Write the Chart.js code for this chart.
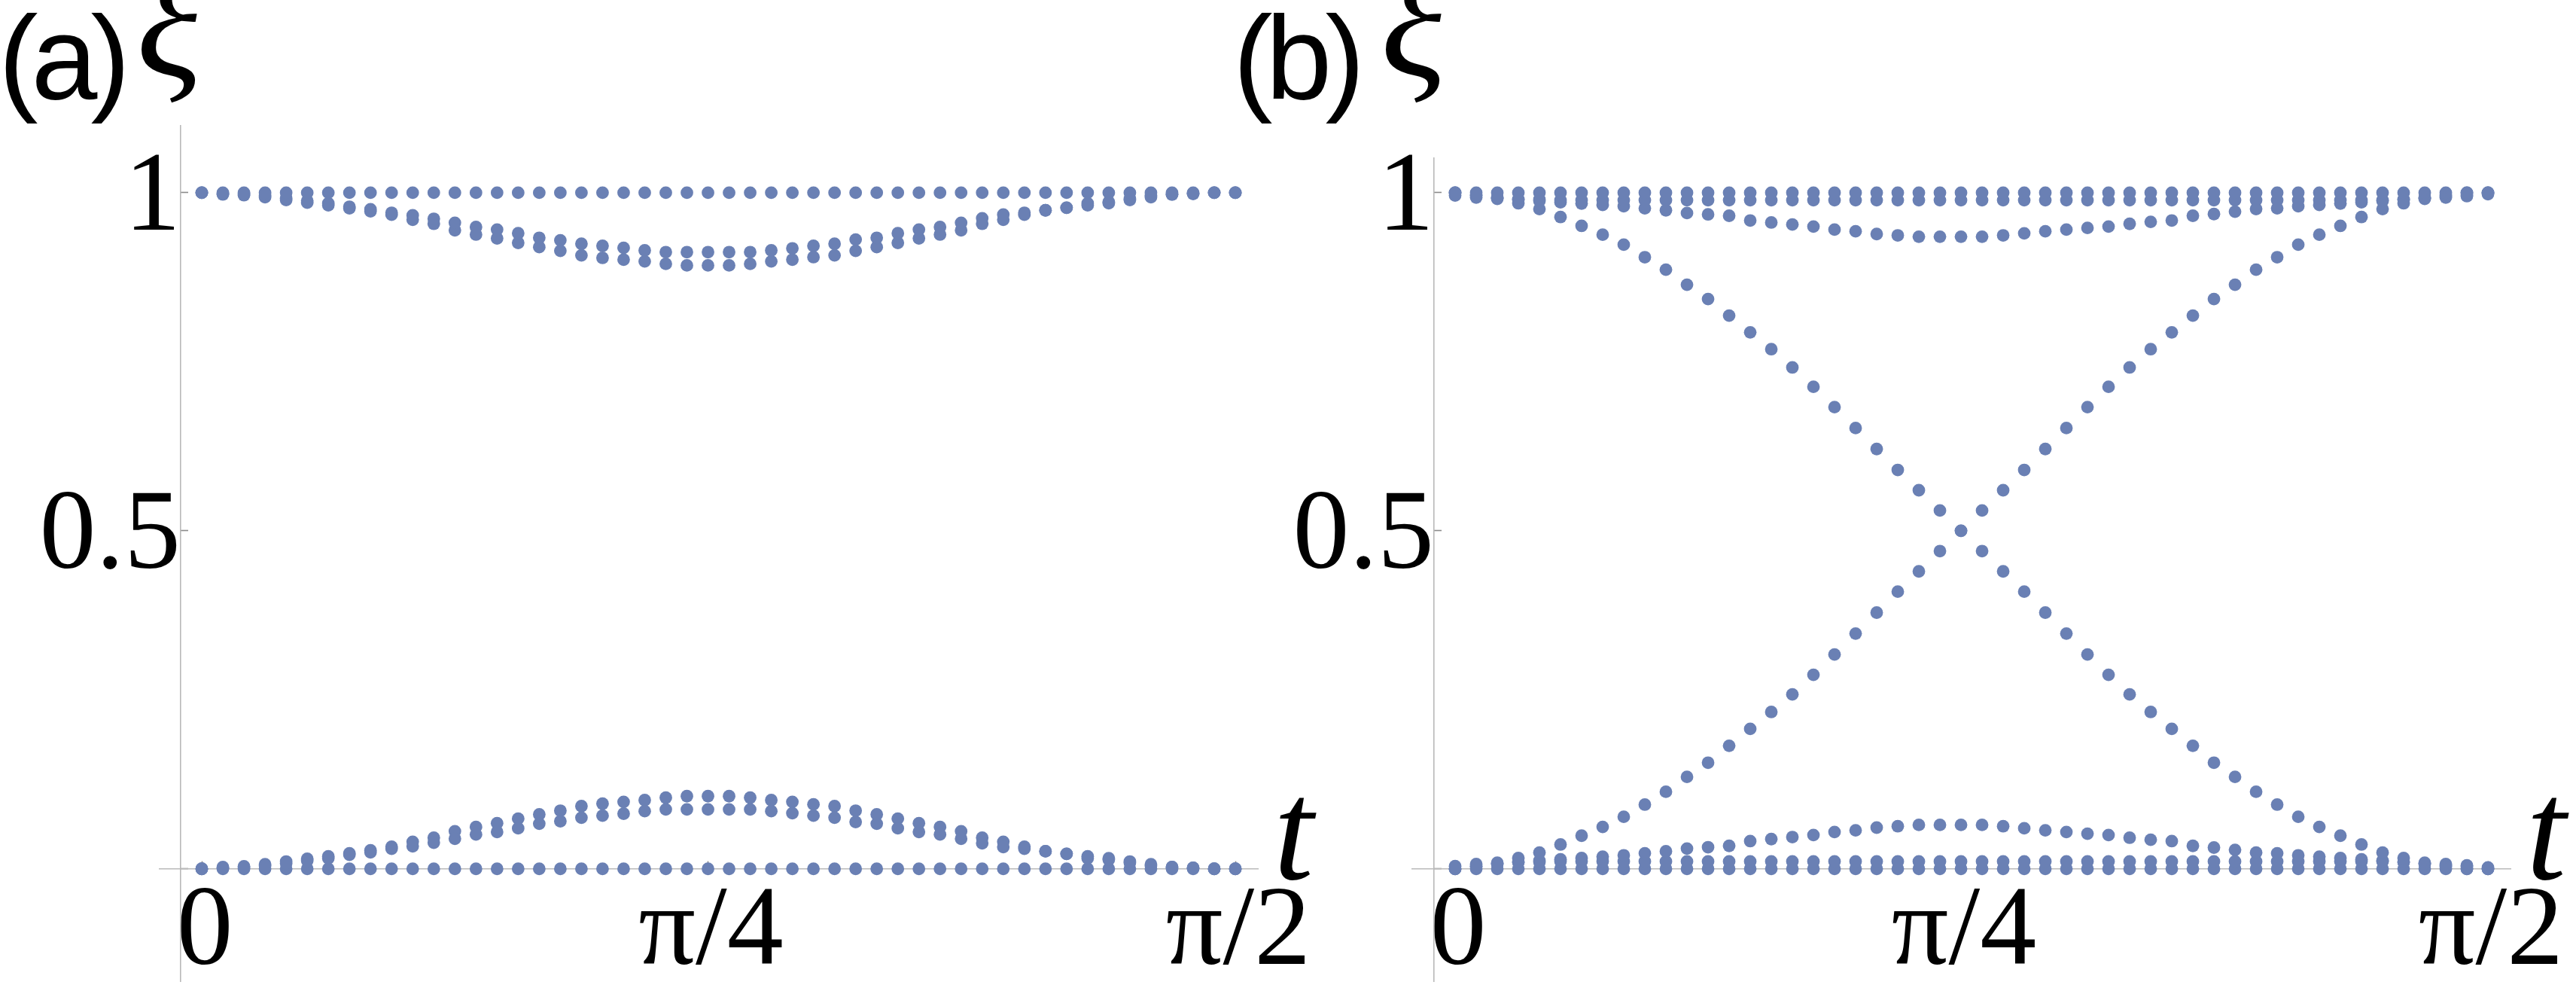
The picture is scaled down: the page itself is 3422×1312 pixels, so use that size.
<!DOCTYPE html>
<html>
<head>
<meta charset="utf-8">
<script src="https://cdn.jsdelivr.net/npm/chart.js@4.4.0/dist/chart.umd.min.js"></script>
<style>
  html, body { margin: 0; padding: 0; background: #fff; }
  body { width: 3422px; height: 1312px; position: relative; overflow: hidden; }
  .panel { position: absolute; top: 0; height: 1312px; }
  #boxA { left: 0; width: 1760px; }
  #boxB { left: 1600px; width: 1822px; }
</style>
</head>
<body>
<div class="panel" id="boxA"><canvas id="chartA"></canvas></div>
<div class="panel" id="boxB"><canvas id="chartB"></canvas></div>
<script>
// sample number along t, 0 .. pi/2
const steps = [0, 1, 2, 3, 4, 5, 6, 7, 8, 9, 10, 11, 12, 13, 14, 15, 16, 17, 18, 19,
    20, 21, 22, 23, 24, 25, 26, 27, 28, 29, 30, 31, 32, 33, 34, 35, 36, 37, 38, 39,
    40, 41, 42, 43, 44, 45, 46, 47, 48, 49];
const xTicks = [0, 24, 49];
const xTickLabels = ['0', 'π/4', 'π/2'];
const yTicks = [0, 0.5, 1];
const yTickLabels = ['', '0.5', '1'];

// panel (a)
const aTop = [1, 1, 1, 1, 1, 1, 1, 1, 1, 1, 1, 1, 1, 1, 1, 1, 1, 1, 1, 1, 1, 1, 1, 1, 1,
    1, 1, 1, 1, 1, 1, 1, 1, 1, 1, 1, 1, 1, 1, 1, 1, 1, 1, 1, 1, 1, 1, 1, 1, 1];
const aDipA = [1, .9985, .9978, .9956, .9918, .9881, .9844, .9792, .9755, .9703,
    .9666, .9614, .9555, .9492, .9455, .9400, .9333, .9296, .9244, .9214,
    .9184, .9147, .9121, .9121, .9121, .9121, .9121, .9147, .9177, .9214,
    .9244, .9307, .9333, .9400, .9455, .9492, .9555, .9622, .9677, .9703,
    .9740, .9778, .9844, .9863, .9910, .9956, .9974, .9985, 1, 1];
const aDipB = [1, .9974, .9963, .9933, .9892, .9852, .9815, .9770, .9726, .9674,
    .9600, .9540, .9444, .9381, .9325, .9258, .9195, .9140, .9073, .9036,
    .9010, .8984, .8947, .8925, .8925, .8925, .8947, .8984, .9010, .9047,
    .9073, .9140, .9195, .9258, .9325, .9381, .9444, .9540, .9600, .9674,
    .9740, .9778, .9815, .9844, .9892, .9933, .9974, .9985, 1, 1];
const aBumpA = [0, .0015, .0022, .0044, .0082, .0119, .0156, .0208, .0245, .0297,
    .0334, .0386, .0445, .0508, .0545, .0600, .0667, .0704, .0756, .0786,
    .0816, .0853, .0879, .0879, .0879, .0879, .0879, .0853, .0823, .0786,
    .0756, .0693, .0667, .0600, .0545, .0508, .0445, .0378, .0323, .0297,
    .0260, .0222, .0156, .0137, .0090, .0044, .0026, .0015, 0, 0];
const aBumpB = [0, .0026, .0037, .0067, .0108, .0148, .0185, .0230, .0274, .0326,
    .0400, .0460, .0556, .0619, .0675, .0742, .0805, .0860, .0927, .0964,
    .0990, .1016, .1053, .1075, .1075, .1075, .1053, .1016, .0990, .0953,
    .0927, .0860, .0805, .0742, .0675, .0619, .0556, .0460, .0400, .0326,
    .0260, .0222, .0185, .0156, .0108, .0067, .0026, .0015, 0, 0];
const aBottom = [0, 0, 0, 0, 0, 0, 0, 0, 0, 0, 0, 0, 0, 0, 0, 0, 0, 0, 0, 0, 0, 0, 0, 0, 0,
    0, 0, 0, 0, 0, 0, 0, 0, 0, 0, 0, 0, 0, 0, 0, 0, 0, 0, 0, 0, 0, 0, 0, 0, 0];

// panel (b)
const bTop = aTop;
const bNear1 = [.996, .993, .991, .990, .990, .989, .989, .989, .989, .989,
    .989, .989, .989, .989, .989, .989, .989, .989, .989, .989,
    .989, .989, .989, .989, .989, .989, .989, .989, .989, .989,
    .989, .989, .989, .989, .989, .989, .989, .989, .989, .989,
    .989, .989, .989, .989, .989, .990, .991, .993, .995, .998];
const bDip = [1, .996, .993, .990, .988, .986, .984, .982, .980, .977,
    .974, .970, .968, .966, .959, .956, .953, .950, .9455, .943,
    .939, .937, .935, .935, .935, .935, .937, .940, .943, .9455,
    .948, .950, .954, .957, .959, .966, .9685, .972, .976, .977,
    .980, .982, .984, .986, .988, .990, .993, .995, .997, 1];
const bFall = [1, .997, .992, .9844, .9759, .9641, .951, .938, .9232, .9047,
    .8862, .864, .8428, .8183, .7935, .7686, .7416, .713, .683, .652,
    .621, .590, .560, .530, .500, .470, .440, .410, .379, .348,
    .317, .287, .258, .232, .207, .182, .157, .136, .114, .095,
    .077, .062, .049, .036, .024, .016, .008, .003, 0, 0];
const bRise = [0, .003, .008, .016, .024, .036, .049, .062, .077, .095,
    .114, .136, .157, .182, .207, .232, .258, .287, .317, .348,
    .379, .410, .440, .470, .500, .530, .560, .590, .621, .652,
    .683, .713, .7416, .7686, .7935, .8183, .8428, .864, .8862, .9047,
    .9232, .938, .951, .9641, .9759, .9844, .992, .997, 1, 1];
const bBump = [0, .004, .007, .010, .012, .014, .016, .018, .020, .023,
    .026, .030, .032, .034, .041, .044, .047, .050, .0545, .057,
    .061, .063, .065, .065, .065, .065, .063, .060, .057, .0545,
    .052, .050, .046, .043, .041, .034, .0315, .028, .024, .023,
    .020, .018, .016, .014, .012, .010, .007, .005, .003, 0];
const bNear0 = [.004, .007, .009, .010, .010, .011, .011, .011, .011, .011,
    .011, .011, .011, .011, .011, .011, .011, .011, .011, .011,
    .011, .011, .011, .011, .011, .011, .011, .011, .011, .011,
    .011, .011, .011, .011, .011, .011, .011, .011, .011, .011,
    .011, .011, .011, .011, .011, .010, .009, .007, .005, .002];
const bBottom = aBottom;

const dotColor = 'rgb(106,128,180)';

const panelText = {
    id: 'panelText',
    afterDraw(chart, args, opts) {
        const ctx = chart.ctx;
        ctx.save();
        ctx.fillStyle = '#000';
        ctx.textAlign = 'left';
        ctx.textBaseline = 'alphabetic';
        ctx.font = '158px "Liberation Sans"';
        ctx.letterSpacing = '-9px';
        ctx.fillText(opts.tag, opts.tagX, 131);
        ctx.letterSpacing = '0px';
        ctx.font = 'italic 205px "Liberation Serif"';
        ctx.fillText('ξ', opts.xiX, 100);
        ctx.font = 'italic 190px "Liberation Serif"';
        ctx.fillText('t', opts.tX, 1167);
        ctx.restore();
    }
};

// axes sit inside the plot area, so drop the label overhang chart.js reserves
const noOverhang = s => { s.paddingTop = 0; s.paddingBottom = 0; s.paddingLeft = 0; s.paddingRight = 0; };

function makePanel(id, bands, frame) {
    const datasets = bands.map(band => ({
        data: band.map((v, i) => ({ x: steps[i], y: v })),
        backgroundColor: dotColor,
        borderColor: dotColor,
        borderWidth: 0,
        pointRadius: 8.4,
        pointHoverRadius: 8.4
    }));
    return new Chart(document.getElementById(id), {
        type: 'scatter',
        data: { datasets: datasets },
        plugins: [panelText],
        options: {
            responsive: true,
            maintainAspectRatio: false,
            animation: false,
            events: [],
            layout: { padding: frame.padding },
            plugins: {
                legend: { display: false },
                tooltip: { enabled: false },
                panelText: frame.text
            },
            scales: {
                x: {
                    type: 'linear',
                    min: frame.xMin,
                    max: frame.xMax,
                    position: { y: 0 },
                    border: { color: '#b9b9b9', width: 1.6 },
                    grid: { drawOnChartArea: false, tickLength: -11, tickColor: '#8a8a8a', tickWidth: 1.6 },
                    afterBuildTicks: s => { s.ticks = xTicks.map(v => ({ value: v })); },
                    afterFit: noOverhang,
                    ticks: {
                        autoSkip: false,
                        maxRotation: 0,
                        padding: 8,
                        labelOffset: 4,
                        color: '#000',
                        font: { family: '"Liberation Serif"', size: 150 },
                        callback: (v, i) => xTickLabels[i]
                    }
                },
                y: {
                    type: 'linear',
                    min: -0.1669,
                    max: frame.yMax,
                    position: { x: -1 },
                    border: { color: '#b9b9b9', width: 1.6 },
                    grid: { drawOnChartArea: false, tickLength: -11, tickColor: '#8a8a8a', tickWidth: 1.6 },
                    afterBuildTicks: s => { s.ticks = yTicks.map(v => ({ value: v })); },
                    afterFit: noOverhang,
                    ticks: {
                        autoSkip: false,
                        padding: 8,
                        labelOffset: 10,
                        color: '#000',
                        font: { family: '"Liberation Serif"', size: 150 },
                        callback: (v, i) => yTickLabels[i]
                    }
                }
            }
        }
    });
}

makePanel('chartA', [aTop, aDipA, aDipB, aBumpA, aBumpB, aBottom], {
    padding: { left: 212, right: 89, top: 167, bottom: 7 },
    xMin: -2.0, xMax: 50.07, yMax: 1.099,
    text: { tag: '(a)', tagX: -2, xiX: 181, tX: 1692 }
});
makePanel('chartB', [bTop, bNear1, bDip, bFall, bRise, bBump, bNear0, bBottom], {
    padding: { left: 276, right: 87, top: 210, bottom: 7 },
    xMin: -2.036, xMax: 50.07, yMax: 1.0512,
    text: { tag: '(b)', tagX: 38, xiX: 234, tX: 1756 }
});
</script>
</body>
</html>
